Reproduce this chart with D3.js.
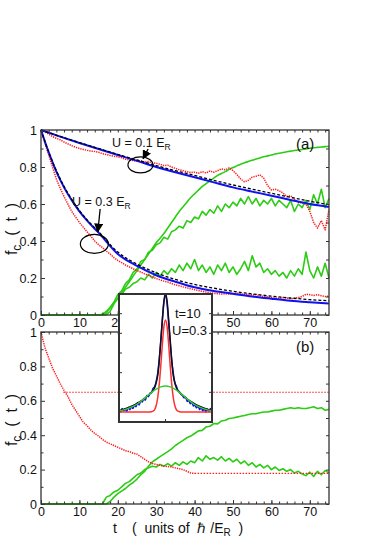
<!DOCTYPE html>
<html>
<head>
<meta charset="utf-8">
<script src="https://cdn.jsdelivr.net/npm/d3@7/dist/d3.min.js"></script>
<style>
  body { margin: 0; background: #fff; }
  text { font-family: "Liberation Sans", Arial, Helvetica, sans-serif; fill: #111; }
</style>
</head>
<body>
<svg id="fig" width="382" height="539"></svg>
<script>
// ---- data ----
var tSteps = d3.range(0, 76);   // t in units of hbar/E_R, one sample per unit

// (a) fits, U = 0.1 E_R
var fitT01 = [0, 5, 10, 15, 20, 25, 30, 35, 40, 45, 50, 55, 60, 65, 70, 75];
var blueU01 = [1, 0.964, 0.93, 0.897, 0.865, 0.833, 0.80, 0.772, 0.745, 0.717, 0.69, 0.667, 0.645, 0.622, 0.60, 0.584];
var dashU01 = [1, 0.965, 0.932, 0.90, 0.868, 0.838, 0.808, 0.78, 0.755, 0.728, 0.703, 0.68, 0.658, 0.636, 0.615, 0.597];
// (a) fits, U = 0.3 E_R
var fitT03 = [0, 2, 4, 6, 8, 10, 12, 15, 20, 25, 30, 35, 40, 45, 50, 55, 60, 65, 70, 75];
var blueU03 = [1, 0.88, 0.775, 0.69, 0.62, 0.56, 0.51, 0.445, 0.33, 0.265, 0.215, 0.18, 0.15, 0.13, 0.115, 0.10, 0.088, 0.077, 0.069, 0.062];
var dashU03 = [1, 0.88, 0.78, 0.695, 0.625, 0.565, 0.515, 0.45, 0.34, 0.275, 0.228, 0.192, 0.165, 0.145, 0.128, 0.114, 0.102, 0.092, 0.083, 0.077];

// (a) simulation, red dotted
var redU01 = [
  1.0, 0.99, 0.978, 0.965, 0.955, 0.947, 0.935, 0.925, 0.915, 0.907,
  0.90, 0.895, 0.89, 0.886, 0.884, 0.88, 0.872, 0.868, 0.862, 0.858,
  0.855, 0.85, 0.842, 0.838, 0.835, 0.832, 0.835, 0.826, 0.83, 0.822,
  0.82, 0.815, 0.808, 0.81, 0.80, 0.792, 0.785, 0.78, 0.775, 0.77,
  0.772, 0.766, 0.775, 0.768, 0.778, 0.772, 0.78, 0.79, 0.785, 0.795,
  0.78, 0.76, 0.735, 0.72, 0.728, 0.745, 0.75, 0.758, 0.74, 0.70,
  0.676, 0.68, 0.672, 0.66, 0.64, 0.645, 0.625, 0.61, 0.605, 0.60,
  0.56, 0.50, 0.47, 0.51, 0.46, 0.57];
var redU03 = [
  1.0, 0.93, 0.865, 0.80, 0.735, 0.685, 0.64, 0.60, 0.56, 0.53,
  0.50, 0.475, 0.45, 0.425, 0.40, 0.38, 0.365, 0.345, 0.33, 0.31,
  0.295, 0.283, 0.27, 0.26, 0.25, 0.24, 0.232, 0.222, 0.215, 0.205,
  0.197, 0.19, 0.183, 0.178, 0.17, 0.163, 0.158, 0.152, 0.147, 0.142,
  0.137, 0.132, 0.128, 0.124, 0.12, 0.117, 0.115, 0.113, 0.115, 0.112,
  0.114, 0.118, 0.115, 0.11, 0.112, 0.108, 0.11, 0.104, 0.10, 0.098,
  0.095, 0.092, 0.09, 0.094, 0.092, 0.088, 0.09, 0.094, 0.10, 0.112,
  0.11, 0.106, 0.11, 0.104, 0.10, 0.102];

// (a) green curves
var greenA1 = [
  0, 0, 0, 0, 0, 0, 0, 0, 0, 0,
  0, 0, 0, 0, 0, 0, 0.005, 0.02, 0.04, 0.065,
  0.09, 0.12, 0.15, 0.18, 0.21, 0.24, 0.27, 0.30, 0.33, 0.36,
  0.39, 0.415, 0.44, 0.47, 0.50, 0.53, 0.56, 0.585, 0.61, 0.635,
  0.655, 0.675, 0.695, 0.71, 0.725, 0.74, 0.755, 0.765, 0.775, 0.787,
  0.797, 0.806, 0.815, 0.823, 0.83, 0.837, 0.843, 0.849, 0.855, 0.86,
  0.865, 0.87, 0.874, 0.878, 0.882, 0.886, 0.889, 0.892, 0.895, 0.898,
  0.901, 0.904, 0.906, 0.908, 0.91, 0.912];
var greenA2 = [
  0, 0, 0, 0, 0, 0, 0, 0, 0, 0,
  0, 0, 0, 0, 0, 0, 0, 0.01, 0.04, 0.07,
  0.11, 0.13, 0.17, 0.19, 0.23, 0.25, 0.29, 0.30, 0.34, 0.35,
  0.38, 0.39, 0.42, 0.41, 0.45, 0.46, 0.48, 0.47, 0.51, 0.50,
  0.53, 0.52, 0.56, 0.54, 0.57, 0.55, 0.59, 0.56, 0.60, 0.58,
  0.61, 0.59, 0.63, 0.60, 0.64, 0.60, 0.63, 0.59, 0.62, 0.60,
  0.63, 0.59, 0.62, 0.60, 0.58, 0.62, 0.56, 0.60, 0.58, 0.62,
  0.57, 0.65, 0.60, 0.68, 0.58, 0.63];
var greenA3 = [
  0, 0, 0, 0, 0, 0, 0, 0, 0, 0,
  0, 0, 0, 0, 0, 0, 0, 0, 0.02, 0.06,
  0.09, 0.11, 0.14, 0.15, 0.17, 0.18, 0.20, 0.19, 0.22, 0.20,
  0.23, 0.21, 0.24, 0.22, 0.25, 0.23, 0.27, 0.24, 0.28, 0.25,
  0.30, 0.24, 0.27, 0.23, 0.26, 0.22, 0.27, 0.24, 0.28, 0.23,
  0.26, 0.22, 0.25, 0.29, 0.24, 0.32, 0.26, 0.28, 0.23, 0.25,
  0.22, 0.24, 0.21, 0.23, 0.20, 0.24, 0.21, 0.25, 0.22, 0.34,
  0.24, 0.20, 0.26, 0.21, 0.28, 0.20];

// (b) red dotted, t = 0..40, then held flat
var redB = [
  1.0, 0.91, 0.85, 0.79, 0.745, 0.70, 0.66, 0.625, 0.58, 0.545,
  0.51, 0.475, 0.455, 0.43, 0.41, 0.395, 0.375, 0.36, 0.35, 0.34,
  0.33, 0.32, 0.31, 0.305, 0.295, 0.29, 0.275, 0.26, 0.245, 0.235,
  0.23, 0.225, 0.22, 0.218, 0.215, 0.21, 0.205, 0.20, 0.19, 0.18,
  0.178];
var redBLevels = [0.65, 0.178];
var redBLevelStart = [5.8, 40];
// (b) green curves
var greenB1 = [
  0, 0, 0, 0, 0, 0, 0, 0, 0, 0,
  0, 0, 0, 0, 0, 0, 0, 0, 0.015, 0.04,
  0.06, 0.075, 0.09, 0.11, 0.125, 0.145, 0.17, 0.19, 0.22, 0.245,
  0.26, 0.275, 0.29, 0.305, 0.32, 0.34, 0.355, 0.37, 0.385, 0.395,
  0.41, 0.425, 0.428, 0.448, 0.452, 0.468, 0.466, 0.483, 0.487, 0.497,
  0.50, 0.505, 0.51, 0.515, 0.52, 0.525, 0.525, 0.53, 0.535, 0.535,
  0.54, 0.545, 0.545, 0.55, 0.555, 0.56, 0.555, 0.56, 0.555, 0.555,
  0.56, 0.565, 0.555, 0.56, 0.545, 0.55];
var greenB2 = [
  0, 0, 0, 0, 0, 0, 0, 0, 0, 0,
  0, 0, 0, 0, 0, 0, 0, 0.04, 0.05, 0.07,
  0.08, 0.10, 0.12, 0.13, 0.15, 0.17, 0.18, 0.20, 0.21, 0.22,
  0.215, 0.23, 0.22, 0.235, 0.22, 0.24, 0.225, 0.245, 0.23, 0.25,
  0.24, 0.27, 0.25, 0.28, 0.26, 0.27, 0.255, 0.275, 0.25, 0.265,
  0.245, 0.26, 0.235, 0.25, 0.225, 0.24, 0.215, 0.23, 0.21, 0.225,
  0.20, 0.215, 0.195, 0.205, 0.19, 0.20, 0.18, 0.19, 0.175, 0.165,
  0.185, 0.16, 0.19, 0.17, 0.195, 0.18];

// inset: density profile at t=10, U=0.3
var insetX = d3.range(-30, 31);
var insetBlue = [
  0.02, 0.0, 0.03, 0.01, 0.025, 0.005, 0.04, 0.02, 0.045, 0.03,
  0.06, 0.045, 0.08, 0.06, 0.09, 0.085, 0.115, 0.10, 0.14, 0.13,
  0.16, 0.165, 0.20, 0.215, 0.26, 0.33, 0.45, 0.60, 0.78, 0.93,
  1.0,
  0.92, 0.76, 0.60, 0.44, 0.33, 0.25, 0.22, 0.18, 0.17, 0.15,
  0.14, 0.12, 0.125, 0.09, 0.10, 0.07, 0.085, 0.05, 0.06, 0.035,
  0.05, 0.02, 0.04, 0.01, 0.03, 0.0, 0.025, 0.005, 0.03, 0.015];
var insetNarrowX = [-30, -10, -8, -7, -6, -5, -4, -3, -2, -1, 0, 1, 2, 3, 4, 5, 6, 7, 8, 10, 30];
var insetRed = [0, 0, 0.007, 0.02, 0.055, 0.123, 0.24, 0.40, 0.58, 0.725, 0.78, 0.725, 0.58, 0.40, 0.24, 0.123, 0.055, 0.02, 0.007, 0, 0];
var insetBlack = [0.01, 0.155, 0.183, 0.205, 0.249, 0.313, 0.44, 0.613, 0.79, 0.943, 1.0, 0.943, 0.79, 0.613, 0.44, 0.313, 0.249, 0.205, 0.183, 0.155, 0.01];
var insetWideX = [-30, -27, -24, -21, -18, -15, -12, -9, -6, -3, 0, 3, 6, 9, 12, 15, 18, 21, 24, 27, 30];
var insetGreen = [0.01, 0.018, 0.03, 0.047, 0.07, 0.099, 0.133, 0.166, 0.194, 0.213, 0.22, 0.213, 0.194, 0.166, 0.133, 0.099, 0.07, 0.047, 0.03, 0.018, 0.01];
var insetYTicks = [1/6, 2/6, 3/6, 4/6, 5/6];

var xMajor = [0, 10, 20, 30, 40, 50, 60, 70];
var xMajorA = [0, 10, 20, 50, 60, 70];   // 30 and 40 sit under the inset in (a)
var xMinor = d3.range(0, 76, 2);
var yMajor = [0, 0.2, 0.4, 0.6, 0.8, 1];
var yMajorLabels = ["0", "0.2", "0.4", "0.6", "0.8", "1"];
var yMinor = [0.1, 0.3, 0.5, 0.7, 0.9];

// ---- scales ----
var svg = d3.select("#fig");
var x = d3.scaleLinear().domain([0, 75]).range([41, 329]);
var yA = d3.scaleLinear().domain([0, 1]).range([315, 130]);
var yB = d3.scaleLinear().domain([0, 1]).range([504, 332]);

var RED = "#ff1a1a", BLUE = "#1010f0", GREEN = "#2ccc14";

function pairs(ts, vs) {
  return vs.map(function (v, i) { return [ts[i], v]; });
}

function drawLine(g, data, y, color, width, dash, curve) {
  var ln = d3.line()
    .x(function (d) { return x(d[0]); })
    .y(function (d) { return y(d[1]); })
    .curve(curve || d3.curveLinear);
  var p = g.append("path")
    .attr("d", ln(data))
    .attr("fill", "none")
    .attr("stroke", color)
    .attr("stroke-width", width)
    .attr("stroke-linejoin", "round");
  if (dash) p.attr("stroke-dasharray", dash);
  return p;
}

function frame(y, labelled) {
  var g = svg.append("g");
  var x0 = x.range()[0], x1 = x.range()[1];
  var yTop = y.range()[1], yBot = y.range()[0];
  // inward ticks on all four sides
  g.append("g").attr("transform", "translate(0," + yBot + ")")
    .call(d3.axisBottom(x).tickValues(xMinor).tickSize(-2.5).tickFormat(""));
  g.append("g").attr("transform", "translate(0," + yBot + ")")
    .call(d3.axisBottom(x).tickValues(labelled).tickSize(-4).tickPadding(3)
      .tickFormat(function (d) { return d; }));
  g.append("g").attr("transform", "translate(0," + yTop + ")")
    .call(d3.axisTop(x).tickValues(xMinor).tickSize(-2.5).tickFormat(""));
  g.append("g").attr("transform", "translate(" + x0 + ",0)")
    .call(d3.axisLeft(y).tickValues(yMinor).tickSize(-2.5).tickFormat(""));
  g.append("g").attr("transform", "translate(" + x0 + ",0)")
    .call(d3.axisLeft(y).tickValues(yMajor).tickSize(-4).tickPadding(4)
      .tickFormat(function (d, i) { return yMajorLabels[i]; }));
  g.append("g").attr("transform", "translate(" + x1 + ",0)")
    .call(d3.axisRight(y).tickValues(yMinor.concat(yMajor)).tickSize(-3).tickFormat(""));
  g.selectAll(".domain").remove();
  g.selectAll(".tick line").attr("stroke", "#333");
  g.selectAll(".tick text").style("font-size", "12.5px").attr("fill", "#111")
    .style("font-family", "'Liberation Sans', Arial, sans-serif");
  g.append("rect")
    .attr("x", x0).attr("y", yTop)
    .attr("width", x1 - x0).attr("height", yBot - yTop)
    .attr("fill", "none").attr("stroke", "#333").attr("stroke-width", 1.3);
  return g;
}

// ---- panel (a) ----
var gA = svg.append("g");
drawLine(gA, pairs(tSteps, greenA3), yA, GREEN, 1.6);
drawLine(gA, pairs(tSteps, greenA2), yA, GREEN, 1.6);
drawLine(gA, pairs(tSteps, greenA1), yA, GREEN, 1.6, null, d3.curveMonotoneX);
drawLine(gA, pairs(tSteps, redU01), yA, RED, 1.5, "1.3,1");
drawLine(gA, pairs(tSteps, redU03), yA, RED, 1.5, "1.3,1");
drawLine(gA, pairs(fitT01, blueU01), yA, BLUE, 2, null, d3.curveMonotoneX);
drawLine(gA, pairs(fitT03, blueU03), yA, BLUE, 2, null, d3.curveMonotoneX);
drawLine(gA, pairs(fitT01, dashU01), yA, "#000", 1.3, "3,2", d3.curveMonotoneX);
drawLine(gA, pairs(fitT03, dashU03), yA, "#000", 1.3, "3,2", d3.curveMonotoneX);
frame(yA, xMajorA);

// annotations in (a)
svg.append("defs").append("marker")
  .attr("id", "head").attr("viewBox", "0 0 10 10")
  .attr("refX", 9).attr("refY", 5)
  .attr("markerWidth", 7).attr("markerHeight", 7)
  .attr("orient", "auto")
  .append("path").attr("d", "M0,0 L10,5 L0,10 z").attr("fill", "#000");

function label(tx, v, main, sub) {
  var t = svg.append("text").attr("x", x(tx)).attr("y", yA(v))
    .style("font-size", "12.5px");
  t.append("tspan").text(main);
  t.append("tspan").attr("dy", 3).style("font-size", "8.5px").text(sub);
}
function arrow(t0, v0, t1, v1) {
  svg.append("line")
    .attr("x1", x(t0)).attr("y1", yA(v0))
    .attr("x2", x(t1)).attr("y2", yA(v1))
    .attr("stroke", "#000").attr("stroke-width", 1.3)
    .attr("marker-end", "url(#head)");
}
function ring(t, v, rx, ry) {
  svg.append("ellipse")
    .attr("cx", x(t)).attr("cy", yA(v))
    .attr("rx", rx).attr("ry", ry)
    .attr("fill", "none").attr("stroke", "#000").attr("stroke-width", 1.2);
}
label(18.5, 0.908, "U = 0.1 E", "R");
arrow(27.9, 0.897, 26.6, 0.845);
ring(25.9, 0.811, 12.5, 8);
label(8.1, 0.589, "U = 0.3 E", "R");
arrow(15.4, 0.573, 14.8, 0.45);
ring(13.9, 0.384, 14, 9.5);

svg.append("text").attr("x", 296).attr("y", 149)
  .style("font-size", "15px").text("(a)");

// ---- panel (b) ----
var gB = svg.append("g");
drawLine(gB, pairs(tSteps, greenB2), yB, GREEN, 1.6);
drawLine(gB, pairs(tSteps, greenB1), yB, GREEN, 1.6);
drawLine(gB, pairs(tSteps, redB), yB, RED, 1.5, "1.3,1");
redBLevels.forEach(function (lv, i) {
  drawLine(gB, [[redBLevelStart[i], lv], [75, lv]], yB, RED, 1.1, "1.5,1.5");
});
frame(yB, xMajor);
svg.append("text").attr("x", 296).attr("y", 352)
  .style("font-size", "15px").text("(b)");

// ---- inset ----
var xi = d3.scaleLinear().domain([-30, 30]).range([119, 212]);
var yi = d3.scaleLinear().domain([0, 1]).range([412, 294]);
var gI = svg.append("g");
gI.append("rect")
  .attr("x", xi(-30)).attr("y", yi(1))
  .attr("width", xi(30) - xi(-30)).attr("height", 422 - yi(1))
  .attr("fill", "#fff");
function insetLine(xs, vs, color, width) {
  var ln = d3.line()
    .x(function (d) { return xi(d[0]); })
    .y(function (d) { return yi(d[1]); })
    .curve(d3.curveMonotoneX);
  gI.append("path").attr("d", ln(pairs(xs, vs)))
    .attr("fill", "none").attr("stroke", color).attr("stroke-width", width);
}
insetLine(insetX, insetBlue, BLUE, 1.5);
insetLine(insetNarrowX, insetBlack, "#111", 1.5);
insetLine(insetNarrowX, insetRed, "#ff3030", 1.5);
insetLine(insetWideX, insetGreen, "#33cc33", 1.4);
gI.selectAll(".it").data(insetYTicks).enter().append("line")
  .attr("x1", xi(-30)).attr("x2", xi(-30) + 3)
  .attr("y1", function (d) { return yi(d); }).attr("y2", function (d) { return yi(d); })
  .attr("stroke", "#333");
gI.selectAll(".it2").data(insetYTicks).enter().append("line")
  .attr("x1", xi(30)).attr("x2", xi(30) - 3)
  .attr("y1", function (d) { return yi(d); }).attr("y2", function (d) { return yi(d); })
  .attr("stroke", "#333");
gI.append("line").attr("x1", xi(0)).attr("x2", xi(0))
  .attr("y1", 422).attr("y2", 419).attr("stroke", "#333");
gI.append("rect")
  .attr("x", xi(-30)).attr("y", yi(1))
  .attr("width", xi(30) - xi(-30)).attr("height", 422 - yi(1))
  .attr("fill", "none").attr("stroke", "#333").attr("stroke-width", 2);
gI.append("text").attr("x", 175).attr("y", 318).style("font-size", "13px").text("t=10");
gI.append("text").attr("x", 172).attr("y", 335).style("font-size", "13px").text("U=0.3");

// ---- axis titles ----
function yTitle(cy) {
  var t = svg.append("text")
    .attr("transform", "translate(17," + cy + ") rotate(-90)")
    .attr("text-anchor", "middle")
    .style("font-size", "16px").style("white-space", "pre");
  t.append("tspan").text("f");
  t.append("tspan").attr("dy", 4).style("font-size", "12px").text("c");
  t.append("tspan").attr("dy", -4).text("  (  t  )");
}
yTitle(229);
yTitle(420);

var xt = svg.append("text").attr("y", 533)
  .style("font-size", "14px").style("white-space", "pre");
xt.append("tspan").attr("x", 113).text("t");
xt.append("tspan").attr("x", 132).text("(  units of  ");
xt.append("tspan").text("ℏ");
xt.append("tspan").text(" /E");
xt.append("tspan").attr("dy", 3).style("font-size", "10px").text("R");
xt.append("tspan").attr("dy", -3).text("  )");
</script>
</body>
</html>
